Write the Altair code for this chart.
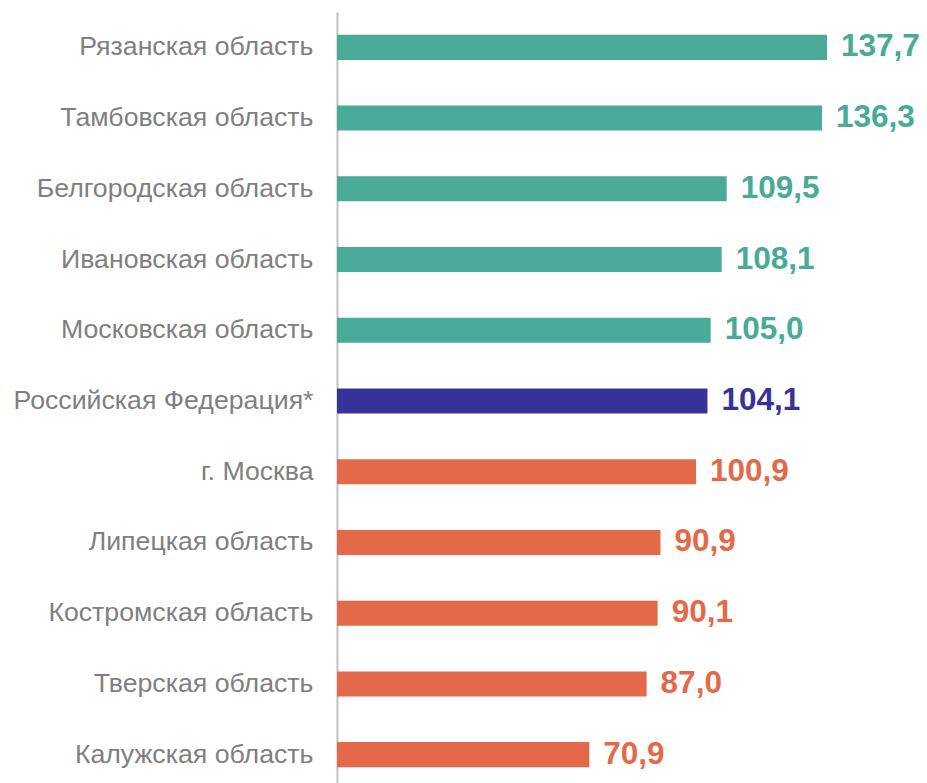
import altair as alt
import pandas as pd

categories = [
    "Рязанская область",
    "Тамбовская область",
    "Белгородская область",
    "Ивановская область",
    "Московская область",
    "Российская Федерация*",
    "г. Москва",
    "Липецкая область",
    "Костромская область",
    "Тверская область",
    "Калужская область",
]
values = [137.7, 136.3, 109.5, 108.1, 105.0, 104.1, 100.9, 90.9, 90.1, 87.0, 70.9]
groups = ["high"] * 5 + ["rf"] + ["low"] * 5

group_domain = ["high", "rf", "low"]
group_colors = ["#48AA97", "#373299", "#E4694A"]

df = pd.DataFrame({
    "cat": categories,
    "val": values,
    "grp": groups,
    "label": [f"{v:.1f}".replace(".", ",") for v in values],
})

color = alt.Color("grp:N", scale=alt.Scale(domain=group_domain, range=group_colors), legend=None)
y = alt.Y("cat:N", sort=categories, title=None,
          scale=alt.Scale(paddingInner=0.646, paddingOuter=0.323),
          axis=alt.Axis(domainColor="#BFBFBF", domainWidth=2, ticks=False,
                        labelFont="Liberation Sans", labelFontSize=26.7,
                        labelColor="#7F7F7F", labelPadding=24, labelLimit=400))
x = alt.X("val:Q", scale=alt.Scale(domain=[0, 145]), axis=None)

base = alt.Chart(df)
bars = base.mark_bar().encode(x=x, y=y, color=color)
texts = base.mark_text(align="left", baseline="middle", dx=14, font="Liberation Sans",
                       fontSize=31.5, fontWeight="bold").encode(x=x, y=y, color=color, text="label:N")

chart = (bars + texts).properties(
    width=516, height=778,
    autosize=alt.AutoSizeParams(type="none"),
    padding={"left": 329, "top": 4, "right": 66, "bottom": 0},
).configure_view(stroke=None)

chart.save("out.html", embed_options={"renderer": "svg", "actions": False})
